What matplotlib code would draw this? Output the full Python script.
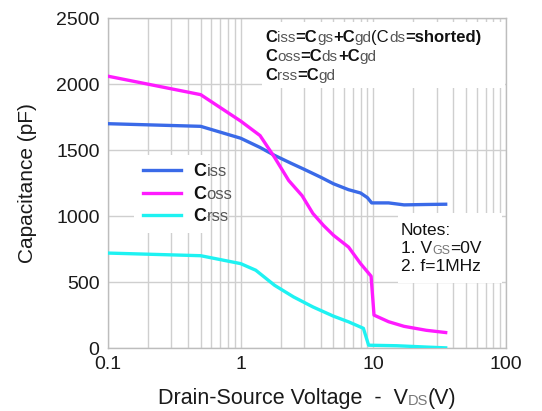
import matplotlib
matplotlib.use('Agg')
import matplotlib.pyplot as plt
import matplotlib.transforms as mtransforms
from matplotlib.ticker import FixedLocator, NullFormatter

plt.rcParams['font.family'] = ['Liberation Sans', 'DejaVu Sans']

# capacitance vs drain-source voltage (pF)
vds_iss = [0.1, 0.5, 1.0, 1.4, 1.8, 2.4, 3.0, 4.0, 5.0, 6.5, 8.0, 9.0, 9.7, 10.5, 13, 17, 25, 35]
ciss = [1700, 1680, 1590, 1520, 1460, 1400, 1355, 1295, 1245, 1200, 1175, 1140, 1100, 1100, 1100, 1085, 1088, 1090]

vds_oss = [0.1, 0.5, 1.0, 1.4, 1.8, 2.3, 2.9, 3.5, 4.2, 5.0, 6.5, 8.0, 9.6, 10.1, 13, 17, 25, 35]
coss = [2060, 1920, 1720, 1610, 1445, 1270, 1155, 1020, 930, 855, 765, 640, 545, 250, 200, 165, 135, 118]

vds_rss = [0.1, 0.5, 1.0, 1.3, 1.8, 2.5, 3.5, 5.0, 6.5, 8.4, 9.2, 15, 25, 35]
crss = [720, 700, 640, 590, 476, 388, 312, 242, 199, 150, 22, 18, 8, 2]

x_ticks = [0.1, 1, 10, 100]
x_labels = ['0.1', '1', '10', '100']
y_ticks = [0, 500, 1000, 1500, 2000, 2500]
legend_subs = ['iss', 'oss', 'rss']

fig = plt.figure(figsize=(5.42, 4.11), dpi=100)
ax = fig.add_axes([0.199, 0.153, 0.735, 0.803])

ax.plot(vds_iss, ciss, color='#3a6ae8', lw=2.4, label=' ', zorder=3)
ax.plot(vds_oss, coss, color='#ff1aff', lw=2.4, label=' ', zorder=3)
ax.plot(vds_rss, crss, color='#1ef2f2', lw=2.4, label=' ', zorder=3)

ax.set_xscale('log')
ax.set_xlim(0.1, 100)
ax.set_ylim(0, 2500)
ax.set_xticks(x_ticks)
ax.set_xticklabels(x_labels)
ax.xaxis.set_minor_locator(FixedLocator([m * 10.0 ** e for e in (-1, 0, 1) for m in range(2, 10)]))
ax.xaxis.set_minor_formatter(NullFormatter())
ax.set_yticks(y_ticks)
ax.tick_params(which='both', length=0, labelsize=14, colors='#1a1a1a', pad=6)
ax.grid(True, which='both', axis='x', color='#cfcfcf', lw=1.0)
ax.grid(True, which='major', axis='y', color='#cfcfcf', lw=1.0)
ax.set_axisbelow(True)
for s in ax.spines.values():
    s.set_color('#bdbdbd')
    s.set_linewidth(1.0)

ax.set_ylabel('Capacitance (pF)', fontsize=15, color='#1a1a1a', labelpad=14)

# legend frame and line samples, labels are written below
leg = ax.legend(loc='upper left', bbox_to_anchor=(0.045, 0.61), frameon=True, fontsize=12.5,
                handlelength=2.2, handletextpad=0.7, labelspacing=0.42, borderpad=0.5)
leg.get_frame().set_edgecolor('none')
leg.get_frame().set_facecolor('white')
leg.get_frame().set_alpha(1.0)

fig.canvas.draw()
renderer = fig.canvas.get_renderer()


def rich_text(x, y, pieces, transform, center=False, va='baseline'):
    # draw runs of text side by side on one line
    arts = []
    dx = 0.0
    for txt, size, color, weight, dy in pieces:
        tr = mtransforms.offset_copy(transform, fig=fig, x=dx, y=dy, units='dots')
        t = fig.text(x, y, txt, fontsize=size, color=color, fontweight=weight,
                     transform=tr, va=va, ha='left', zorder=6)
        dx += t.get_window_extent(renderer).width
        arts.append(t)
    if center:
        for t in arts:
            t.set_transform(mtransforms.offset_copy(t.get_transform(), fig=fig, x=-dx / 2, y=0, units='dots'))
    return arts


big = 12
sub = 11
blk = '#111111'
gry = '#555555'

# formula box
box = plt.Rectangle((262 / 542, 1 - 88 / 411), 243 / 542, 66 / 411, transform=fig.transFigure,
                    facecolor='white', edgecolor='none', zorder=4)
fig.patches.append(box)
lines = [
    [('C', big, blk, 'bold', 0), ('iss', sub, gry, 'normal', 0), ('=C', big, blk, 'bold', 0),
     ('gs', sub, gry, 'normal', 0), ('+C', big, blk, 'bold', 0), ('gd', sub, gry, 'normal', 0),
     ('(C', big, blk, 'normal', 0), ('ds', sub, gry, 'normal', 0), ('=shorted)', big, blk, 'bold', 0)],
    [('C', big, blk, 'bold', 0), ('oss', sub, gry, 'normal', 0), ('=C', big, blk, 'bold', 0),
     ('ds', sub, gry, 'normal', 0), ('+C', big, blk, 'bold', 0), ('gd', sub, gry, 'normal', 0)],
    [('C', big, blk, 'bold', 0), ('rss', sub, gry, 'normal', 0), ('=C', big, blk, 'bold', 0),
     ('gd', sub, gry, 'normal', 0)],
]
for i, ln in enumerate(lines):
    rich_text(265 / 542, 1 - (42 + 19 * i) / 411, ln, fig.transFigure)

# legend labels: C in black, subscript letters in grey
inv = fig.transFigure.inverted()
for t, s in zip(leg.get_texts(), legend_subs):
    bb = t.get_window_extent(renderer)
    fx, fy = inv.transform((bb.x0, (bb.y0 + bb.y1) / 2))
    rich_text(fx, fy, [('C', 13, blk, 'bold', 0), (s, 12, gry, 'normal', 0)], fig.transFigure, va='center')

# notes box
nbox = plt.Rectangle((398 / 542, 1 - 283 / 411), 104 / 542, 70 / 411, transform=fig.transFigure,
                     facecolor='white', edgecolor='none', zorder=4)
fig.patches.append(nbox)
nsz = 12.5
rich_text(401 / 542, 1 - 235 / 411, [('Notes:', nsz, blk, 'normal', 0)], fig.transFigure)
rich_text(401 / 542, 1 - 253 / 411, [('1. V', nsz, blk, 'normal', 0), ('GS', 9, '#777777', 'normal', -1),
                                     ('=0V', nsz, blk, 'normal', 0)], fig.transFigure)
rich_text(401 / 542, 1 - 271 / 411, [('2. f=1MHz', nsz, blk, 'normal', 0)], fig.transFigure)

# x axis label
rich_text(307 / 542, 1 - 404 / 411, [('Drain-Source Voltage  -  V', 15.5, '#1a1a1a', 'normal', 0),
                                     ('DS', 10.5, '#777777', 'normal', -1),
                                     ('(V)', 15.5, '#1a1a1a', 'normal', 0)], fig.transFigure, center=True)

fig.savefig('out.png', dpi=100)
